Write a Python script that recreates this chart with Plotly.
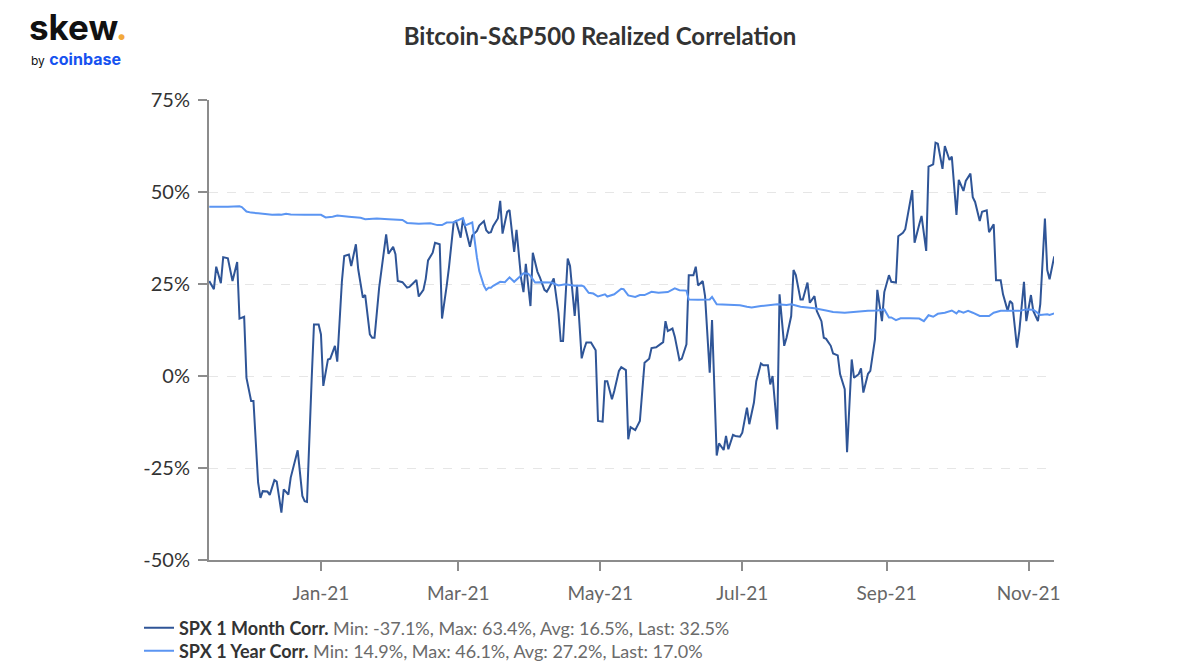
import pandas as pd
import plotly.graph_objects as go

# ---------------- data ----------------
START_DATE = "2020-11-13"  # day 0

# SPX 1 Month Corr. (day offset from START_DATE, value in %)
month_day = [1, 3, 4, 6, 7, 9, 11, 13, 14, 16, 17, 19, 20, 22, 23, 24, 26, 27, 29, 30,
             32, 33, 35, 36, 39, 41, 42, 43, 45, 46, 48, 49, 50, 52, 53, 55, 56, 58, 59, 61,
             62, 64, 65, 67, 68, 70, 71, 72, 74, 75, 77, 78, 80, 81, 82, 84, 86, 87, 88, 90,
             91, 93, 94, 95, 97, 98, 100, 101, 103, 104, 106, 107, 109, 110, 111, 113, 114, 116, 117, 119,
             120, 121, 122, 123, 125, 126, 127, 129, 130, 132, 133, 135, 136, 137, 139, 140, 142, 143, 145, 146,
             147, 149, 151, 152, 153, 155, 156, 158, 159, 161, 162, 163, 165, 167, 168, 170, 171, 172, 174, 175,
             177, 178, 180, 181, 182, 184, 186, 187, 188, 190, 191, 193, 194, 196, 197, 198, 200, 201, 203, 204,
             206, 207, 209, 210, 211, 213, 214, 216, 217, 219, 220, 222, 223, 224, 226, 227, 229, 230, 232, 233,
             235, 236, 238, 239, 241, 242, 243, 245, 246, 248, 249, 251, 252, 253, 255, 256, 258, 259, 261, 262,
             264, 265, 266, 268, 269, 271, 272, 274, 275, 277, 278, 280, 281, 282, 284, 285, 287, 288, 290, 291,
             293, 294, 296, 297, 299, 300, 303, 304, 306, 307, 309, 310, 312, 313, 314, 316, 317, 319, 320, 322,
             323, 325, 326, 328, 329, 330, 332, 333, 335, 336, 338, 339, 341, 342, 344, 345, 346, 348, 349, 351,
             352, 354, 355, 357, 358, 360, 361, 362, 364]
month_corr = [25.8, 23.6, 29.7, 25.2, 32.3, 32.0, 25.8, 31.0, 15.6, 16.1, -0.5, -6.8, -6.8, -29.0, -33.1, -31.3, -31.4, -32.3, -28.3, -28.7,
              -37.1, -30.8, -32.2, -27.6, -20.2, -32.6, -34.0, -34.2, -0.9, 14.0, 14.0, 11.3, -2.7, 4.5, 4.7, 8.2, 3.9, 25.8, 32.6, 33.0,
              29.9, 35.8, 29.0, 21.3, 22.0, 11.3, 10.4, 10.4, 24.0, 29.0, 38.5, 33.2, 35.1, 33.1, 25.8, 25.5, 24.0, 24.2, 24.9, 26.1,
              21.6, 23.4, 26.4, 31.4, 33.5, 36.2, 35.8, 15.6, 24.5, 29.6, 41.7, 42.1, 37.6, 42.6, 40.3, 35.1, 38.2, 39.4, 40.9, 42.1,
              39.6, 38.9, 39.1, 40.8, 42.8, 47.6, 38.7, 44.6, 45.1, 33.7, 39.7, 26.4, 22.8, 30.5, 19.0, 33.5, 28.3, 26.9, 23.4, 22.9,
              24.0, 26.5, 17.2, 9.5, 9.5, 31.9, 29.9, 16.3, 24.5, 4.8, 7.2, 9.1, 9.1, 7.0, -12.2, -12.4, -1.4, -1.4, -6.3, -4.1,
              1.4, 2.4, 1.6, -17.2, -13.9, -14.7, -12.2, -4.1, 3.6, 4.7, 7.6, 7.8, 8.3, 9.2, 14.9, 12.2, 12.9, 10.7, 4.3, 4.7,
              8.6, 27.4, 27.4, 29.7, 24.6, 25.8, 21.7, 0.9, 15.2, -21.6, -18.3, -20.1, -16.3, -19.9, -16.0, -16.3, -16.5, -15.4, -8.6, -13.1,
              -7.2, -1.4, 3.4, 2.9, 2.9, -2.3, 0.0, -14.5, 22.2, 8.2, 10.4, 16.3, 28.8, 27.4, 20.8, 20.8, 25.4, 19.9, 21.7, 17.7,
              14.9, 10.4, 10.1, 8.2, 6.1, 5.6, 0.5, -3.6, -20.7, 4.5, -0.5, 0.5, 2.1, -4.5, 0.6, 1.4, 10.0, 23.4, 14.9, 22.8,
              27.4, 25.6, 25.4, 38.0, 38.9, 39.9, 50.5, 36.2, 41.2, 43.5, 34.0, 56.9, 57.5, 63.4, 63.1, 56.3, 62.5, 58.7, 59.6, 43.8,
              53.3, 50.3, 53.0, 55.0, 48.6, 47.3, 42.1, 44.6, 45.0, 39.1, 41.2, 26.0, 26.0, 22.2, 17.7, 20.4, 19.7, 7.7, 12.2, 25.6,
              14.9, 22.0, 17.7, 14.9, 19.5, 42.8, 28.8, 26.3, 32.5]

# SPX 1 Year Corr.
year_day = [1, 6, 9, 14, 15, 17, 19, 22, 25, 28, 31, 32, 34, 36, 42, 45, 48, 49, 51, 54, 56,
            61, 66, 68, 73, 78, 84, 86, 91, 96, 99, 101, 103, 106, 110, 111, 114, 116, 117, 119, 120, 121,
            122, 123, 126, 128, 130, 132, 135, 136, 138, 139, 141, 143, 148, 151, 154, 158, 161, 162, 164, 166,
            168, 171, 172, 175, 178, 179, 181,
            184, 186, 188, 191, 194, 198, 201, 203, 206, 207, 211, 216, 217, 219, 224, 229, 232, 234, 238, 242,
            245, 249, 251, 255, 261, 266, 269, 274, 279, 284, 288, 291, 293, 294, 296, 298, 302,
            306, 308, 310, 312, 314, 317, 320, 322, 323, 325, 327, 329, 332, 336, 338, 341, 344, 346, 349, 352,
            355, 358, 361, 362, 364]
year_corr = [46.0, 45.9, 46.0, 46.1, 45.9, 44.7, 44.4, 44.2, 43.9, 43.8, 43.9, 43.8, 44.1, 43.9, 43.8, 43.7, 43.8, 43.8, 43.1, 43.3, 43.6,
             43.3, 43.0, 42.6, 42.8, 42.6, 42.4, 41.6, 41.4, 41.5, 41.0, 41.0, 41.7, 41.8, 42.9, 40.9, 41.7, 32.2, 28.5, 24.5, 23.4, 24.0,
             24.0, 24.5, 25.6, 25.5, 26.8, 25.6, 27.2, 27.9, 27.8, 27.2, 25.4, 25.5, 25.4, 24.6, 24.9, 24.5, 24.6, 24.3, 22.6, 22.4,
             21.6, 22.2, 21.6, 22.2, 23.7, 23.6, 21.9,
             21.5, 22.0, 22.0, 22.9, 22.6, 22.8, 23.8, 23.3, 23.2, 20.8, 20.7, 20.8, 21.5, 19.5, 19.3, 19.2, 18.8, 18.6, 19.0, 19.3,
             19.5, 19.3, 19.5, 18.8, 18.4, 17.8, 17.4, 17.2, 17.5, 17.7, 17.8, 18.1, 15.9, 15.9, 15.2, 15.7, 15.7,
             15.6, 14.9, 16.5, 16.1, 16.9, 17.2, 17.8, 17.0, 17.7, 17.2, 17.7, 17.2, 16.3, 16.3, 17.2, 17.7, 17.7, 17.9, 17.7, 18.1,
             18.0, 16.6, 16.8, 16.6, 17.0]

series_names = ["SPX 1 Month Corr.", "SPX 1 Year Corr."]
month_stats = ["-37.1%", "63.4%", "16.5%", "32.5%"]
year_stats = ["14.9%", "46.1%", "27.2%", "17.0%"]

tick_dates = ["2021-01-01", "2021-03-01", "2021-05-01", "2021-07-01", "2021-09-01", "2021-11-01"]
tick_labels = ["Jan-21", "Mar-21", "May-21", "Jul-21", "Sep-21", "Nov-21"]
y_ticks = [-50, -25, 0, 25, 50, 75]
y_labels = ["-50%", "-25%", "0%", "25%", "50%", "75%"]

# ---------------- figure ----------------
start = pd.Timestamp(START_DATE)
month_x = [start + pd.Timedelta(days=d) for d in month_day]
year_x = [start + pd.Timedelta(days=d) for d in year_day]

DARK = "#2f5597"
LIGHT = "#5b95f2"
GREY_TXT = "#6b6b6b"
FONT = "Lato"


def legend_label(name, stats):
    return (f"<b>{name}</b> <span style='color:{GREY_TXT}'>Min: {stats[0]}, Max: {stats[1]}, "
            f"Avg: {stats[2]}, Last: {stats[3]}</span>")


fig = go.Figure()
fig.add_trace(go.Scatter(x=month_x, y=month_corr, mode="lines",
                         line=dict(color=DARK, width=2), legend="legend",
                         name=legend_label(series_names[0], month_stats)))
fig.add_trace(go.Scatter(x=year_x, y=year_corr, mode="lines",
                         line=dict(color=LIGHT, width=2), legend="legend2",
                         name=legend_label(series_names[1], year_stats)))

# page body margin is removed by the post script, so layout coords = screen coords
W, H = 1200, 670
L, T = 209, 100
R = W - 1054
B = H - 560
pw, ph = W - L - R, H - T - B


def px(xp):
    return (xp - L) / pw


def py(yp):
    return (H - B - yp) / ph


leg_common = dict(xanchor="left", yanchor="middle", orientation="v",
                  font=dict(size=18, color="#333333", family=FONT),
                  bgcolor="rgba(0,0,0,0)", itemwidth=30)

fig.update_layout(
    width=W, height=H,
    margin=dict(l=L, r=R, t=T, b=B, autoexpand=False),
    paper_bgcolor="white", plot_bgcolor="white",
    font=dict(family=FONT, color="#333333"),
    title=dict(text="<b>Bitcoin-S&P500 Realized Correlation</b>",
               x=0.5, xanchor="center", y=1 - 37 / H, yanchor="middle",
               xref="container", yref="container",
               font=dict(size=24, color="#333333", family=FONT)),
    showlegend=True,
    legend=dict(x=px(139), y=py(628), **leg_common),
    legend2=dict(x=px(139), y=py(651), **leg_common),
    xaxis=dict(
        type="date",
        range=[start + pd.Timedelta(days=0.9), start + pd.Timedelta(days=363.9)],
        tickvals=tick_dates, ticktext=tick_labels,
        showgrid=False, zeroline=False,
        showline=True, linecolor="#8c8c8c", linewidth=2,
        ticks="outside", ticklen=9, tickwidth=2, tickcolor="#8c8c8c",
        tickfont=dict(size=19, color="#666666", family=FONT),
        ticklabelstandoff=6,
    ),
    yaxis=dict(
        range=[-50, 75], tickvals=y_ticks, ticktext=y_labels,
        showgrid=True, gridcolor="#e6e6e6", gridwidth=1, griddash="dash",
        zeroline=False,
        showline=True, linecolor="#8c8c8c", linewidth=2,
        ticks="outside", ticklen=9, tickwidth=2, tickcolor="#8c8c8c",
        tickfont=dict(size=20, color="#333333", family=FONT),
        ticklabelstandoff=4,
    ),
    annotations=[
        dict(text="<b>skew</b><b><span style='color:#f2a93b'>.</span></b>",
             xref="paper", yref="paper", x=px(27), y=py(27),
             xanchor="left", yanchor="middle", showarrow=False,
             font=dict(size=35, color="#111111", family="Inter")),
        dict(text="<span style='font-size:12px;color:#111111'>by</span> <b>coinbase</b>",
             xref="paper", yref="paper", x=px(29), y=py(59),
             xanchor="left", yanchor="middle", showarrow=False,
             font=dict(size=16, color="#1652f0", family="Inter")),
    ],
)

fig.write_html("out.html", config={"displayModeBar": False},
               post_script="document.body.style.margin='0';")
